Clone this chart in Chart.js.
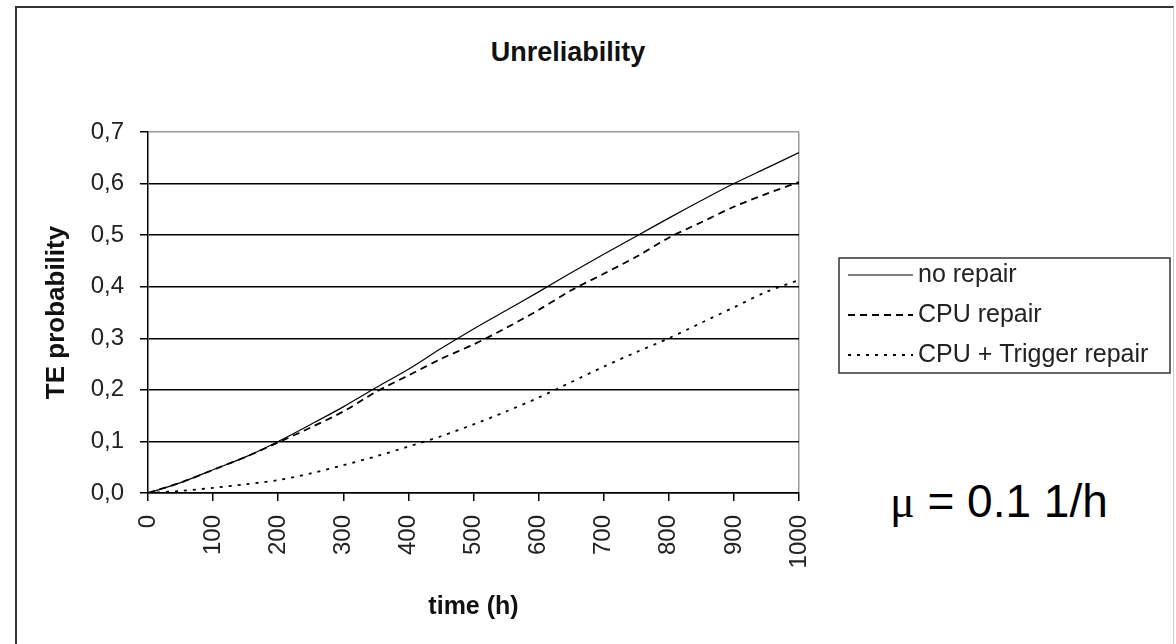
<!DOCTYPE html>
<html>
<head>
<meta charset="utf-8">
<script src="https://cdn.jsdelivr.net/npm/chart.js@4"></script>
<style>
  body { margin: 0; background: #fff; overflow: hidden; }
  #wrap { position: relative; width: 1176px; height: 644px; overflow: hidden; }
  #frame { position: absolute; left: 15px; top: 6px; width: 1156px; height: 700px;
           border: 2px solid #333; border-right: 1px solid #ccc; }
  #title { position: absolute; left: 568px; top: 39px; transform: translateX(-50%);
           font: bold 27px "Liberation Sans", Arial, sans-serif; line-height: 27px; color: #111; white-space: nowrap; }
  #mu { position: absolute; left: 890px; top: 478px;
        font: 46px "Liberation Sans", Arial, sans-serif; line-height: 46px; color: #000; white-space: nowrap; }
  #mu span { font-family: "Liberation Serif", serif; }
  canvas { position: absolute; left: 0; top: 0; }
</style>
</head>
<body>
<div id="wrap">
  <div id="frame"></div>
  <div id="title">Unreliability</div>
  <div id="mu"><span>μ</span> = 0.1 1/h</div>
  <canvas id="chart" width="1176" height="644"></canvas>
</div>
<script>
// time axis (h)
const hours = [0, 50, 100, 150, 200, 250, 300, 350, 400, 450, 500,
               550, 600, 650, 700, 750, 800, 850, 900, 950, 1000];

// TE probability per series
const noRepair = [0, 0.02, 0.045, 0.07, 0.1, 0.133, 0.167, 0.204, 0.24, 0.28, 0.318,
                  0.354, 0.39, 0.427, 0.463, 0.498, 0.533, 0.567, 0.6, 0.63, 0.66];
const cpuRepair = [0, 0.02, 0.045, 0.07, 0.098, 0.127, 0.158, 0.196, 0.228, 0.26, 0.288,
                   0.32, 0.355, 0.393, 0.425, 0.458, 0.495, 0.525, 0.555, 0.58, 0.603];
const cpuTriggerRepair = [0, 0.004, 0.01, 0.017, 0.025, 0.038, 0.054, 0.071, 0.09, 0.11, 0.133,
                          0.158, 0.185, 0.215, 0.245, 0.273, 0.3, 0.33, 0.36, 0.39, 0.413];

const seriesLabels = ["no repair", "CPU repair", "CPU + Trigger repair"];

const FONT = '"Liberation Sans", Arial, sans-serif';

const toPoints = (vals) => hours.map((h, i) => ({ x: h, y: vals[i] }));

// legend box drawn to the right of the plot, like the old excel one
const boxLegend = {
  id: "boxLegend",
  afterDraw(chart, args, opts) {
    const ctx = chart.ctx;
    ctx.save();
    ctx.lineWidth = 1.5;
    ctx.strokeStyle = "#333";
    ctx.setLineDash([]);
    ctx.strokeRect(opts.x, opts.y, opts.w, opts.h);
    ctx.font = "25px " + FONT;
    ctx.fillStyle = "#222";
    ctx.textBaseline = "middle";
    chart.data.datasets.forEach((ds, i) => {
      const cy = opts.y + opts.first + i * opts.rowH;
      ctx.setLineDash(ds.borderDash || []);
      ctx.lineWidth = ds.borderWidth;
      ctx.strokeStyle = ds.borderColor;
      ctx.beginPath();
      ctx.moveTo(opts.x + 9, cy);
      ctx.lineTo(opts.x + 74, cy);
      ctx.stroke();
      ctx.setLineDash([]);
      ctx.fillText(ds.label, opts.x + 79, cy);
    });
    ctx.restore();
  },
};

new Chart(document.getElementById("chart"), {
  type: "line",
  data: {
    datasets: [
      {
        label: seriesLabels[0],
        data: toPoints(noRepair),
        borderColor: "#000",
        borderWidth: 1.2,
        pointRadius: 0,
        tension: 0.3,
      },
      {
        label: seriesLabels[1],
        data: toPoints(cpuRepair),
        borderColor: "#000",
        borderWidth: 1.8,
        borderDash: [7, 5],
        pointRadius: 0,
        tension: 0.3,
      },
      {
        label: seriesLabels[2],
        data: toPoints(cpuTriggerRepair),
        borderColor: "#000",
        borderWidth: 1.8,
        borderDash: [3, 6],
        pointRadius: 0,
        tension: 0.3,
      },
    ],
  },
  options: {
    responsive: false,
    animation: false,
    layout: { padding: { left: 0, top: 132, right: 377, bottom: 0 } },
    plugins: {
      legend: { display: false },
      tooltip: { enabled: false },
      boxLegend: { x: 839, y: 258, w: 331, h: 115, first: 17, rowH: 40 },
    },
    scales: {
      x: {
        type: "linear",
        min: 0,
        max: 1000,
        afterFit: (s) => { s.height = 151; },
        ticks: {
          stepSize: 100,
          autoSkip: false,
          maxRotation: 90,
          minRotation: 90,
          padding: 14,
          color: "#222",
          font: { family: FONT, size: 24 },
          callback: (v) => String(v),
        },
        grid: {
          color: (c) => (c.tick && c.tick.value === 1000 ? "#999" : "rgba(0,0,0,0)"),
          tickColor: "#000",
          tickLength: 8,
          lineWidth: 1.5,
        },
        border: { color: "#000", width: 1.5 },
        title: {
          display: true,
          text: "time (h)",
          color: "#111",
          font: { family: FONT, size: 25, weight: "bold" },
          padding: { top: 0, bottom: 22 },
        },
      },
      y: {
        min: 0,
        max: 0.7,
        afterFit: (s) => { s.width = 148; },
        ticks: {
          stepSize: 0.1,
          padding: 16,
          color: "#222",
          font: { family: FONT, size: 24 },
          callback: (v) => v.toFixed(1).replace(".", ","),
        },
        grid: {
          color: (c) => (c.tick && c.tick.value >= 0.69 ? "#999" : "#000"),
          tickColor: "#000",
          tickLength: 8,
          lineWidth: 1.5,
        },
        border: { color: "#000", width: 1.5 },
        title: {
          display: true,
          text: "TE probability",
          color: "#111",
          font: { family: FONT, size: 26, weight: "bold" },
          padding: { top: 41, bottom: 0 },
        },
      },
    },
  },
  plugins: [boxLegend],
});
</script>
</body>
</html>
